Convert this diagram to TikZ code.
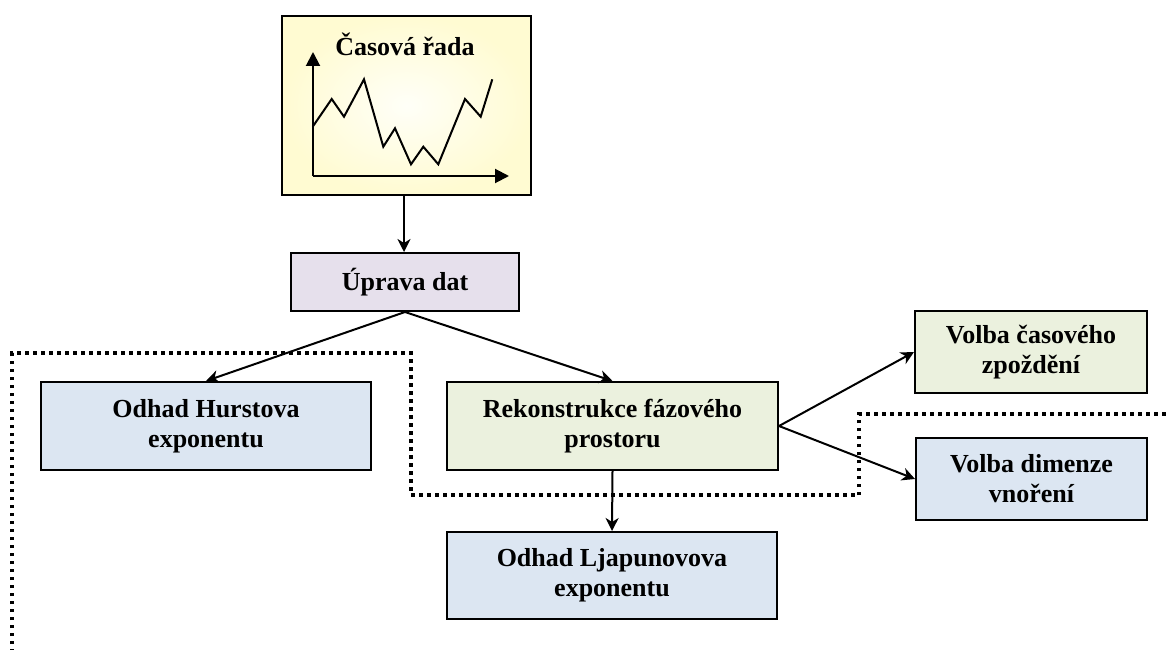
\documentclass[tikz,border=0pt]{standalone}
\usepackage{fontspec}
\setmainfont{Liberation Serif}
\usetikzlibrary{arrows.meta}
\definecolor{lav}{HTML}{E6E0EC}
\definecolor{lgreen}{HTML}{EBF1DE}
\definecolor{lblue}{HTML}{DCE6F2}
\definecolor{ylout}{HTML}{FFFBD2}
\definecolor{ylin}{HTML}{FFFFF8}
\tikzset{
  box/.style={draw=black, line width=2pt, align=center, inner sep=0pt,
    font=\bfseries\fontsize{26}{30}\selectfont},
  conn/.style={line width=2pt, -{Stealth[length=13pt,width=13pt,inset=4pt]}},
  axis/.style={line width=2pt, -{Triangle[length=14pt,width=14pt]}},
  dotline/.style={line width=3.5pt, dash pattern=on 3.5pt off 4.5pt},
}
\begin{document}
\begin{tikzpicture}[x=1pt,y=-1pt]
\useasboundingbox (0,0) rectangle (1169,650);
% dotted region
\draw[dotline] (12,652) -- (12,353) -- (411,353) -- (411,495) -- (859,495) -- (859,414) -- (1171,414);
% top box
\node[box, minimum width=249pt, minimum height=179pt, shading=radial, inner color=ylin, outer color=ylout] (ts) at (406.5,105.5) {};
\node[font=\bfseries\fontsize{26}{30}\selectfont] (tstitle) at (405,44) {Časová řada};
\coordinate (o) at (313,176);
\draw[axis] (o) -- (313,52);
\draw[axis] (o) -- (509,176);
\draw[line width=2pt, line join=miter] (312.7,126.7) -- (331.7,99) -- (344,116.7) -- (364,79.3) -- (383.3,146.7) -- (395,128.3) -- (411,164.3) -- (423.3,146.7) -- (438.3,164.3) -- (465,99) -- (480.7,116.7) -- (492.3,79.3);
% boxes
\node[box, fill=lav, minimum width=228pt, minimum height=58pt] (uprava) at (405,282) {Úprava dat};
\node[box, fill=lblue, minimum width=330pt, minimum height=88pt] (hurst) at (206,426) {Odhad Hurstova\\exponentu};
\node[box, fill=lgreen, minimum width=331pt, minimum height=88pt] (rekon) at (612.5,426) {Rekonstrukce fázového\\prostoru};
\node[box, fill=lblue, minimum width=330pt, minimum height=87pt] (ljap) at (612,575.5) {Odhad Ljapunovova\\exponentu};
\node[box, fill=lgreen, minimum width=232pt, minimum height=82pt] (volcas) at (1031,352) {Volba časového\\zpoždění};
\node[box, fill=lblue, minimum width=231pt, minimum height=82pt] (voldim) at (1031.5,479) {Volba dimenze\\vnoření};
% connectors
\draw[conn] (ts.south -| 404,0) -- (uprava.north -| 404,0);
\draw[conn] (uprava.south) -- (hurst.north);
\draw[conn] (uprava.south) -- (rekon.north);
\draw[conn] (rekon.south) -- (ljap.north);
\draw[conn] (rekon.east) -- (volcas.west);
\draw[conn] (rekon.east) -- (voldim.west);
\end{tikzpicture}
\end{document}
